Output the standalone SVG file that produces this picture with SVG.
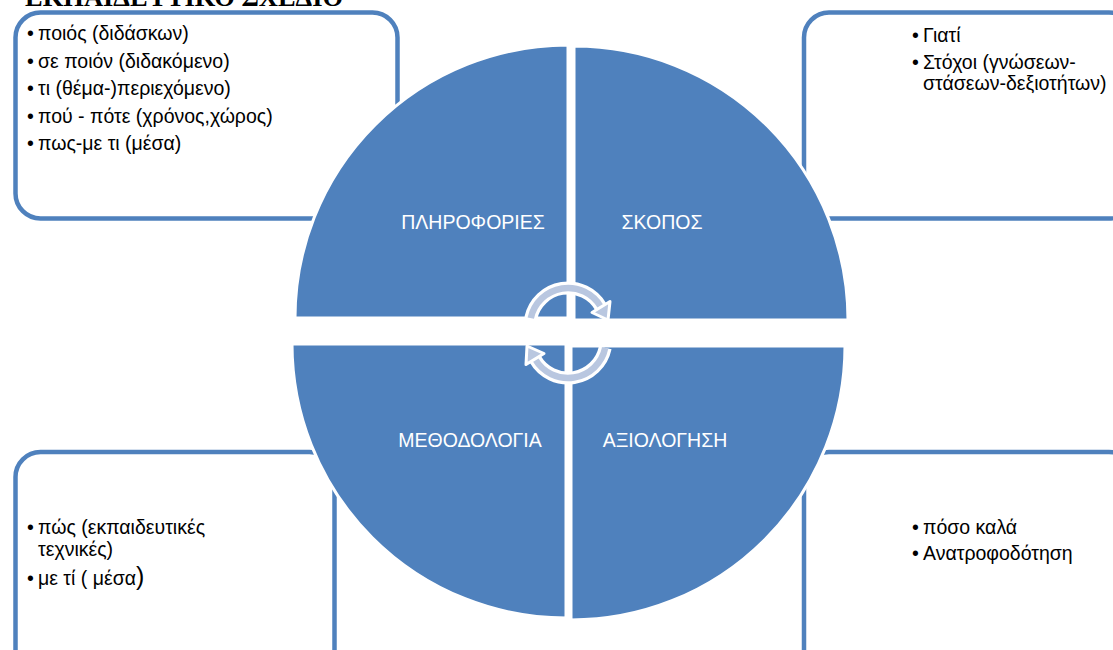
<svg xmlns="http://www.w3.org/2000/svg" width="1113" height="650" viewBox="0 0 1113 650">
<defs>
<style>
.box{fill:#fff;stroke:#4f81bd;stroke-width:4.5}
.quad{fill:#4f81bd;stroke:#fff;stroke-width:3}
.txt{font-family:"Liberation Sans",Arial,sans-serif;font-size:19.5px;fill:#000}
.lbl{font-family:"Liberation Sans",Arial,sans-serif;font-size:19.5px;fill:#fff;text-anchor:middle}
.title{font-family:"Liberation Serif","Times New Roman",serif;font-size:26.5px;font-weight:bold;fill:#000}
.arcw{fill:none;stroke:#fff;stroke-width:13}
.arcb{fill:none;stroke:#b9c7e0;stroke-width:6.5}
.headw{fill:#b9c7e0;stroke:#fff;stroke-width:3;stroke-linejoin:round}
</style>
</defs>
<rect width="1113" height="650" fill="#fff"/>
<text class="title" x="25" y="6">ΕΚΠΑΙΔΕΥΤΙΚΟ ΣΧΕΔΙΟ</text>

<g id="box-info">
<rect class="box" x="15.5" y="12.5" width="382" height="206" rx="25"/>
</g>
<g id="box-goal">
<rect class="box" x="804" y="12.5" width="330" height="206" rx="25"/>
</g>
<g id="box-method">
<rect class="box" x="15.5" y="452" width="319" height="230" rx="25"/>
</g>
<g id="box-eval">
<rect class="box" x="804" y="452" width="330" height="230" rx="25"/>
</g>

<g id="quad-info">
<path class="quad" d="M568,318 L295,318 A273,273 0 0 1 568,45 Z"/>
<text class="lbl" x="473" y="229">ΠΛΗΡΟΦΟΡΙΕΣ</text>
</g>
<g id="quad-goal">
<path class="quad" d="M574,320 L574,46 A274,274 0 0 1 848,320 Z"/>
<text class="lbl" x="662" y="229">ΣΚΟΠΟΣ</text>
</g>
<g id="quad-method">
<path class="quad" d="M566,344 L566,618 A274,274 0 0 1 292,344 Z"/>
<text class="lbl" x="470" y="447">ΜΕΘΟΔΟΛΟΓΙΑ</text>
</g>
<g id="quad-eval">
<path class="quad" d="M571,346 L845,346 A274,274 0 0 1 571,620 Z"/>
<text class="lbl" x="665" y="447">ΑΞΙΟΛΟΓΗΣΗ</text>
</g>

<g id="connectors">
<path class="arcw" d="M530.8,318.1 A38,38 0 0 1 600.9,307"/>
<path class="arcb" d="M530.8,318.1 A38,38 0 0 1 600.9,307"/>
<polygon class="headw" points="610,301.5 592,312.5 608,320"/>
<path class="arcw" d="M605.2,347.9 A38,38 0 0 1 535.1,359"/>
<path class="arcb" d="M605.2,347.9 A38,38 0 0 1 535.1,359"/>
<polygon class="headw" points="526,364.5 544,353.5 527,346"/>
</g>

<g id="text-info" class="txt">
<text y="40"><tspan x="27">•</tspan><tspan x="38">ποιός (διδάσκων)</tspan></text>
<text y="67.5"><tspan x="27">•</tspan><tspan x="38">σε ποιόν (διδακόμενο)</tspan></text>
<text y="95"><tspan x="27">•</tspan><tspan x="38">τι (θέμα-)περιεχόμενο)</tspan></text>
<text y="122.5"><tspan x="27">•</tspan><tspan x="38">πού - πότε (χρόνος,χώρος)</tspan></text>
<text y="150"><tspan x="27">•</tspan><tspan x="38">πως-με τι (μέσα)</tspan></text>
</g>
<g id="text-goal" class="txt">
<text y="42"><tspan x="912">•</tspan><tspan x="923">Γιατί</tspan></text>
<text y="69"><tspan x="912">•</tspan><tspan x="923">Στόχοι (γνώσεων-</tspan></text>
<text x="923" y="90">στάσεων-δεξιοτήτων)</text>
</g>
<g id="text-method" class="txt">
<text y="534"><tspan x="27">•</tspan><tspan x="38">πώς (εκπαιδευτικές</tspan></text>
<text x="38" y="556">τεχνικές)</text>
<text y="585"><tspan x="27">•</tspan><tspan x="38">με τί ( μέσα</tspan><tspan font-size="25">)</tspan></text>
</g>
<g id="text-eval" class="txt">
<text y="534"><tspan x="912">•</tspan><tspan x="923">πόσο καλά</tspan></text>
<text y="560"><tspan x="912">•</tspan><tspan x="923">Ανατροφοδότηση</tspan></text>
</g>
</svg>
